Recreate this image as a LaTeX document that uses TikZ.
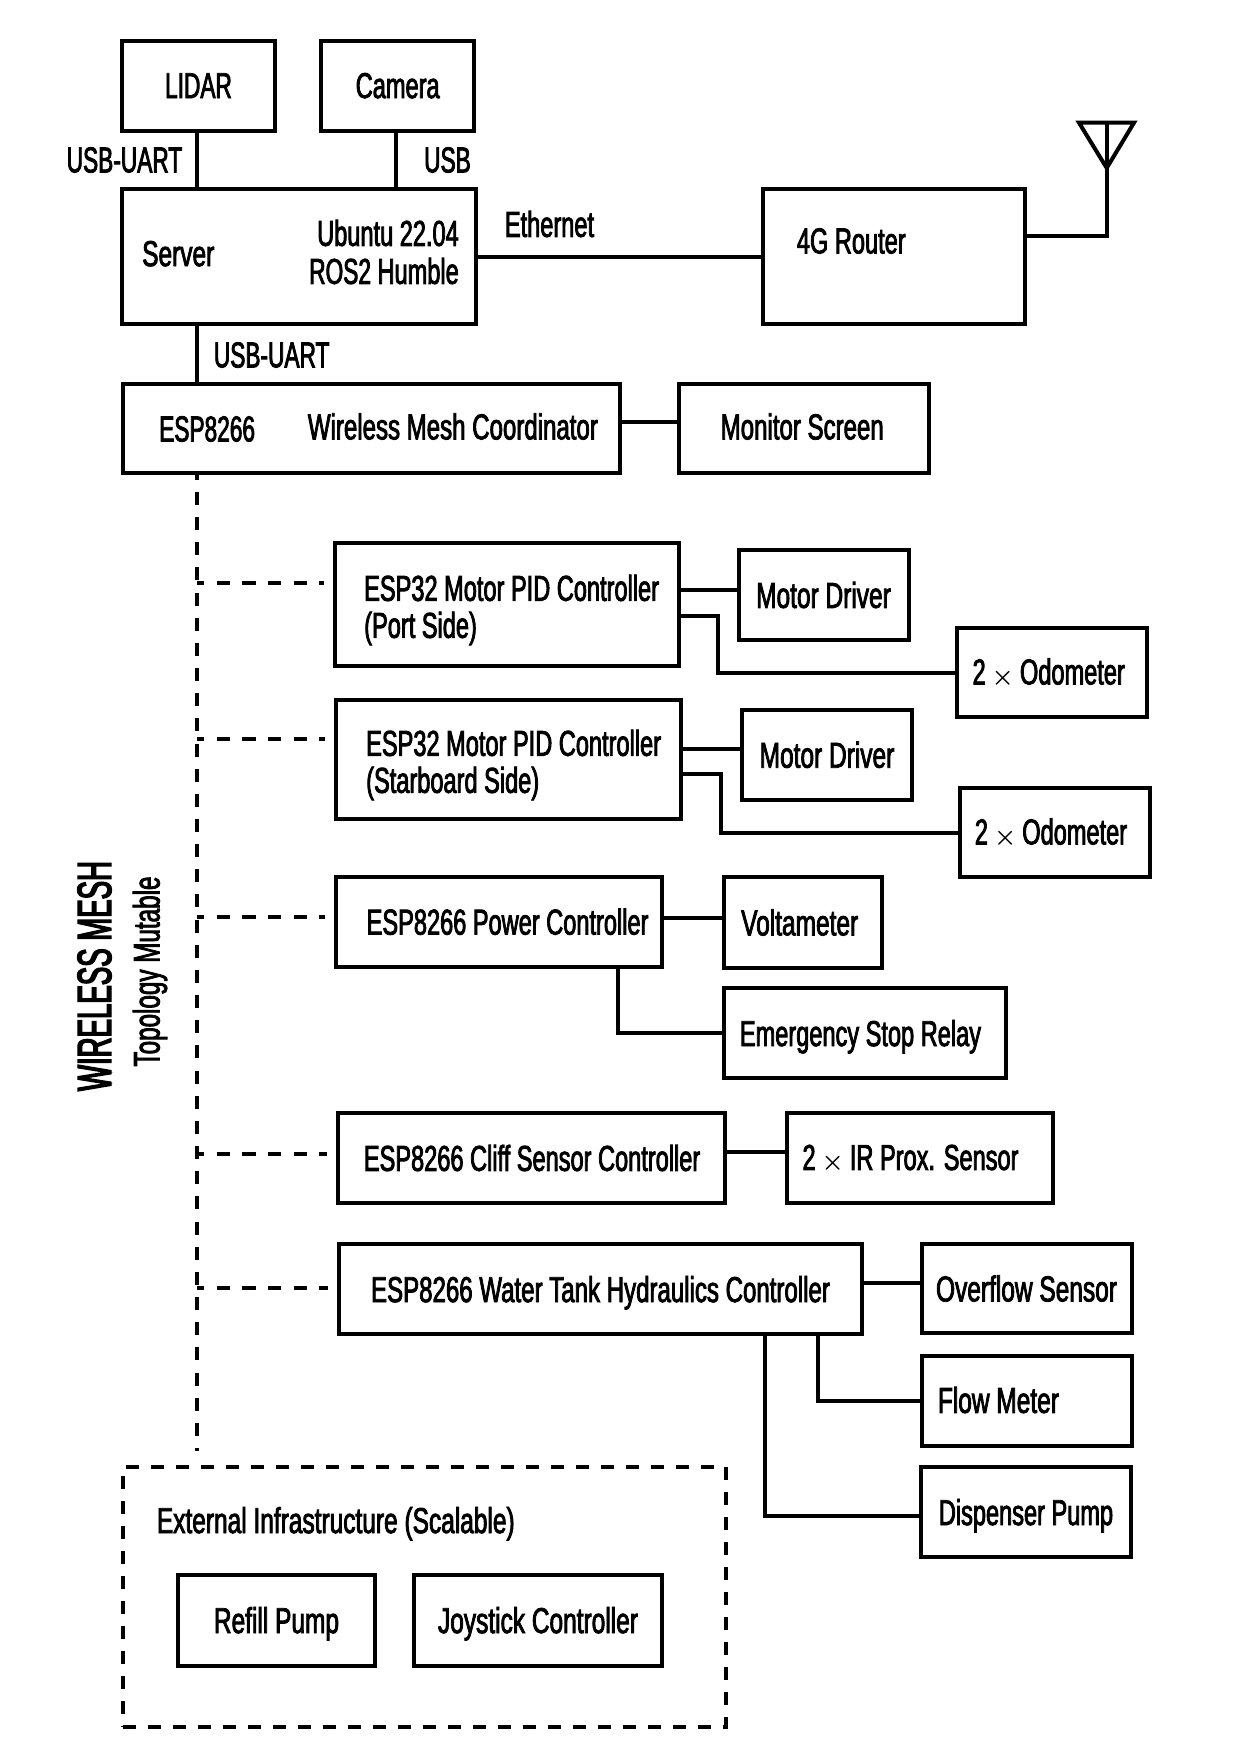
\documentclass[tikz,border=0pt]{standalone}
\usepackage{fontspec}
\setmainfont[FakeStretch=0.655,FakeBold=2.2]{Liberation Sans}
\newfontfamily\capsfont[FakeStretch=0.63,FakeBold=2.2]{Liberation Sans}
\newfontfamily\midfont[FakeStretch=0.668,FakeBold=2.2]{Liberation Sans}
\newfontfamily\widefont[FakeStretch=0.68,FakeBold=2.2]{Liberation Sans}
\newfontfamily\meshfont[FakeStretch=0.575,FakeBold=3]{Liberation Sans}
\usetikzlibrary{positioning}
\newcommand{\timesmark}{\hspace{6pt}{\boldmath$\times$}\hspace{6pt}}
\tikzset{
  box/.style={draw,black,line width=4pt,inner sep=0pt,align=left,font=\fontsize{36}{38}\selectfont},
  txt/.style={inner sep=0pt,align=right,font=\fontsize{36}{38}\selectfont},
  nodesc/.style={text depth=0pt},
  wire/.style={black,line width=4pt},
  mesh/.style={black,line width=4pt,dash pattern=on 13pt off 12.16pt,dash phase=7.9pt,shorten >=14pt},
  branch/.style={black,line width=4pt,dash pattern=on 13.3pt off 12.3pt,dash phase=5.9pt,shorten >=9pt}
}
\begin{document}
\begin{tikzpicture}[x=1pt,y=-1pt]
\useasboundingbox (0,0) rectangle (1241,1754);
\coordinate (trunk) at (196.5,0);
\coordinate (camwire) at (395.5,0);
% top row
\node[box,font=\fontsize{36}{38}\selectfont\capsfont,minimum width=153pt,minimum height=90pt] (lidar) at (198.5,85.7) {LIDAR};
\node[box,minimum width=152.5pt,minimum height=90pt] (camera) at (397.7,85.7) {Camera};
\node[box,minimum width=354pt,minimum height=135pt] (server) at (299,256.7) {};
\node[txt,anchor=west,font=\fontsize{36}{38}\selectfont\widefont] (servertxt) at (142,253.7) {Server};
\node[txt,anchor=east] (ostxt) at (459,252) {Ubuntu 22.04\\{\capsfont ROS2} Humble};
\node[box,minimum width=262pt,minimum height=135pt] (router) at (894,256.7) {};
\node[txt,anchor=west] (routertxt) at (796.7,241) {4G Router};
\node[txt,anchor=west] (ethertxt) at (504.7,224) {Ethernet};
\node[txt,anchor=east,font=\fontsize{36}{38}\selectfont\capsfont] (usbuart) at (182.4,160) {USB-UART};
\node[txt,anchor=west,font=\fontsize{36}{38}\selectfont\capsfont] (usb) at (424,160) {USB};
\node[txt,anchor=west,font=\fontsize{36}{38}\selectfont\capsfont] (usbuartb) at (213.7,355) {USB-UART};
\node[box,minimum width=497.4pt,minimum height=88.7pt] (coord) at (371.3,428.3) {};
\node[txt,anchor=west,font=\fontsize{36}{38}\selectfont\capsfont] (esptxt) at (159,429) {ESP8266};
\node[txt,anchor=west,font=\fontsize{36}{38}\selectfont\midfont] (coordtxt) at (307.7,426.5) {Wireless Mesh Coordinator};
\node[box,minimum width=250pt,minimum height=88.7pt] (monitor) at (804,428.3) {};
\node[txt,anchor=west,font=\fontsize{36}{38}\selectfont\midfont] (monitortxt) at (720.5,426.5) {Monitor Screen};
% motor controllers
\node[box,minimum width=344pt,minimum height=123pt] (pidport) at (507,604.5) {};
\node[txt,anchor=west,align=left,font=\fontsize{36}{37}\selectfont] (pidporttxt) at (364,610) {ESP32 Motor PID Controller\\(Port Side)};
\node[box,minimum width=170pt,minimum height=90pt] (driverport) at (823.5,595) {\widefont Motor Driver};
\node[box,minimum width=190pt,minimum height=89.5pt] (odoport) at (1052,672.7) {};
\node[txt,anchor=west] (odoporttxt) at (972.4,673) {2\timesmark Odometer};
\node[box,minimum width=345.5pt,minimum height=119pt] (pidstar) at (508.7,759.5) {};
\node[txt,anchor=west,align=left,font=\fontsize{36}{37}\selectfont] (pidstartxt) at (366,765) {ESP32 Motor PID Controller\\(Starboard Side)};
\node[box,minimum width=170pt,minimum height=90.4pt] (driverstar) at (827,754.8) {\widefont Motor Driver};
\node[box,minimum width=190pt,minimum height=89pt] (odostar) at (1055,832.5) {};
\node[txt,anchor=west] (odostartxt) at (974.7,833) {2\timesmark Odometer};
% power, cliff, water
\node[box,minimum width=326.4pt,minimum height=90pt] (power) at (499,921.7) {};
\node[txt,anchor=west] (powertxt) at (366.5,921.7) {ESP8266 Power Controller};
\node[box,minimum width=158pt,minimum height=91pt] (volt) at (803,922.5) {};
\node[txt,anchor=west,font=\fontsize{36}{38}\selectfont\widefont] (volttxt) at (741,922.5) {Voltameter};
\node[box,minimum width=282pt,minimum height=90pt] (estop) at (865,1033) {};
\node[txt,anchor=west,nodesc] (estoptxt) at (739.7,1033) {Emergency Stop Relay};
\node[box,minimum width=387pt,minimum height=89.5pt] (cliff) at (531.5,1158) {};
\node[txt,anchor=west] (clifftxt) at (363.7,1158) {ESP8266 Cliff Sensor Controller};
\node[box,minimum width=266pt,minimum height=89.5pt] (irprox) at (920,1158) {};
\node[txt,anchor=west] (irproxtxt) at (802.3,1159) {2\timesmark IR Prox. Sensor};
\node[box,minimum width=523pt,minimum height=90pt,nodesc,font=\fontsize{36}{38}\selectfont\midfont] (water) at (600.5,1289) {ESP8266 Water Tank Hydraulics Controller};
\node[box,minimum width=210pt,minimum height=89pt,font=\fontsize{36}{38}\selectfont\widefont] (overflow) at (1026.5,1288.5) {Overflow Sensor};
\node[box,minimum width=210pt,minimum height=90pt] (flow) at (1026.5,1401) {};
\node[txt,anchor=west,font=\fontsize{36}{38}\selectfont\widefont] (flowtxt) at (937.7,1400) {Flow Meter};
\node[box,minimum width=210pt,minimum height=90pt,nodesc] (dispenser) at (1026,1512) {Dispenser Pump};
% external infrastructure
\node[draw,black,line width=4pt,dash pattern=on 13pt off 12pt,inner sep=0pt,minimum width=603pt,minimum height=260pt] (external) at (424,1597) {};
\node[txt,anchor=west,nodesc,font=\fontsize{36}{38}\selectfont\widefont] (exttxt) at (156.7,1520) {External Infrastructure (Scalable)};
\node[box,minimum width=197pt,minimum height=91pt,nodesc,font=\fontsize{36}{38}\selectfont\widefont] (refill) at (276.5,1620) {Refill Pump};
\node[box,minimum width=248pt,minimum height=91pt,nodesc,font=\fontsize{36}{38}\selectfont\widefont] (joystick) at (538,1620) {Joystick Controller};
% mesh labels
\node[rotate=90,inner sep=0pt,font=\fontsize{48}{50}\selectfont\meshfont] (meshtxt) at (94.5,976) {WIRELESS MESH};
\node[rotate=90,inner sep=0pt,font=\fontsize{37}{38}\selectfont] (topotxt) at (150,971.5) {Topology Mutable};
% antenna
\coordinate (antl) at (1079,122.7);
\coordinate (antr) at (1134,122.7);
\coordinate (anttop) at (1106.7,122.7);
\coordinate (anttip) at (1106.7,168);
\coordinate (antbase) at (1106.7,235.7);
\draw[wire] (antl) -- (antr) -- (anttip) -- cycle;
\draw[wire] (anttop) -- (antbase) -- (router.east |- antbase);
% wires
\draw[wire] (lidar.south -| trunk) -- (server.north -| trunk);
\draw[wire] (camera.south -| camwire) -- (server.north -| camwire);
\draw[wire] (server.east) -- (router.west);
\draw[wire] (server.south -| trunk) -- (coord.north -| trunk);
\draw[wire] (coord.east |- 0,422.4) -- (monitor.west |- 0,422.4);
\draw[wire] (pidport.east |- 0,590) -- (driverport.west |- 0,590);
\draw[wire] (pidport.east |- 0,616) -- (718.4,616) |- (odoport.west);
\draw[wire] (pidstar.east |- 0,749) -- (driverstar.west |- 0,749);
\draw[wire] (pidstar.east |- 0,774) -- (720.6,774) |- (odostar.west);
\draw[wire] (power.east |- 0,917.5) -- (volt.west |- 0,917.5);
\draw[wire] (617.7,966.7) |- (estop.west);
\draw[wire] (cliff.east |- 0,1152) -- (irprox.west |- 0,1152);
\draw[wire] (water.east |- 0,1283) -- (overflow.west |- 0,1283);
\draw[wire] (818,1334) |- (flow.west);
\draw[wire] (765.4,1334) |- (dispenser.west |- 0,1515.7);
% mesh trunk
\draw[mesh] (coord.south -| trunk) -- (external.north -| trunk);
\draw[branch] (197,583.3) -- (pidport.west |- 0,583.3);
\draw[branch] (197,739.3) -- (pidstar.west |- 0,739.3);
\draw[branch] (197,916.7) -- (power.west |- 0,916.7);
\draw[branch] (197,1153.5) -- (cliff.west |- 0,1153.5);
\draw[branch] (197,1288.3) -- (water.west |- 0,1288.3);
\end{tikzpicture}
\end{document}
